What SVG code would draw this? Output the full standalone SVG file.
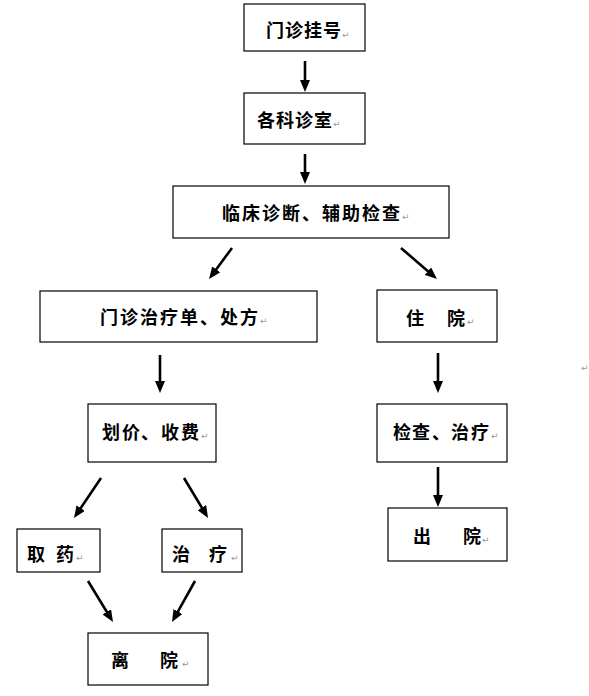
<svg xmlns="http://www.w3.org/2000/svg" width="589" height="696" viewBox="0 0 589 696">
<style>
.box{fill:#fff;stroke:#000;stroke-width:1.2}
.t{font-family:"Noto Sans CJK SC","Noto Sans",sans-serif;font-size:18px;font-weight:bold;fill:#000}
.pm{font-family:"DejaVu Sans",sans-serif;font-size:9px;fill:#999}
.ar{stroke:#000;stroke-width:2.6;fill:none;marker-end:url(#ah)}
</style>
<defs>
<marker id="ah" markerUnits="userSpaceOnUse" viewBox="0 0 12 10" markerWidth="12" markerHeight="10" refX="2" refY="5" orient="auto">
<path d="M0,0 L12,5 L0,10 z" fill="#000"/>
</marker>
</defs>
<rect width="589" height="696" fill="#fff"/>
<g id="n1"><rect class="box" x="244" y="4" width="121" height="47"/><text class="t" x="266 285 304 323" y="37">门诊挂号</text><text class="pm" x="342" y="38">↵</text></g>
<g id="n2"><rect class="box" x="244" y="93" width="121" height="51"/><text class="t" x="257 276 295 314" y="127">各科诊室</text><text class="pm" x="333" y="127">↵</text></g>
<g id="n3"><rect class="box" x="173" y="186" width="276" height="52"/><text class="t" x="222 242 262 282 302 322 342 362 382" y="220">临床诊断、辅助检查</text><text class="pm" x="402" y="220">↵</text></g>
<g id="n4"><rect class="box" x="40" y="291" width="277" height="51"/><text class="t" x="100 120 140 160 180 200 220 240" y="324">门诊治疗单、处方</text><text class="pm" x="260" y="324">↵</text></g>
<g id="n5"><rect class="box" x="377" y="290" width="120" height="52"/><text class="t" x="406 447" y="325">住院</text><text class="pm" x="467" y="325">↵</text></g>
<g id="n6"><rect class="box" x="88" y="404" width="128" height="58"/><text class="t" x="102 122 141 161 181" y="439">划价、收费</text><text class="pm" x="201" y="439">↵</text></g>
<g id="n7"><rect class="box" x="377" y="404" width="130" height="58"/><text class="t" x="393 412 432 451 471" y="439">检查、治疗</text><text class="pm" x="491" y="439">↵</text></g>
<g id="n8"><rect class="box" x="388" y="508" width="119" height="53"/><text class="t" x="413 463" y="543">出院</text><text class="pm" x="482" y="543">↵</text></g>
<g id="n9"><rect class="box" x="17" y="529" width="83" height="43"/><text class="t" x="27 56" y="561">取药</text><text class="pm" x="76" y="561">↵</text></g>
<g id="n10"><rect class="box" x="162" y="529" width="80" height="43"/><text class="t" x="172 209" y="561">治疗</text><text class="pm" x="231" y="561">↵</text></g>
<g id="n11"><rect class="box" x="88" y="633" width="120" height="52"/><text class="t" x="111 160" y="667">离院</text><text class="pm" x="182" y="667">↵</text></g>
<text class="pm" x="581" y="371">↵</text>
<g id="connectors">
<line class="ar" x1="305" y1="61" x2="305" y2="82"/>
<line class="ar" x1="305" y1="154" x2="305" y2="174"/>
<line class="ar" x1="232" y1="248" x2="215" y2="271"/>
<line class="ar" x1="401" y1="248" x2="429.4" y2="272.5"/>
<line class="ar" x1="160" y1="355" x2="160" y2="383"/>
<line class="ar" x1="438" y1="353" x2="438" y2="383"/>
<line class="ar" x1="101" y1="478" x2="79.6" y2="509.7"/>
<line class="ar" x1="184" y1="478" x2="202.9" y2="509.4"/>
<line class="ar" x1="438" y1="467" x2="438" y2="497"/>
<line class="ar" x1="88" y1="581" x2="107.8" y2="613.5"/>
<line class="ar" x1="195" y1="581" x2="176.9" y2="613.3"/>
</g>
</svg>
